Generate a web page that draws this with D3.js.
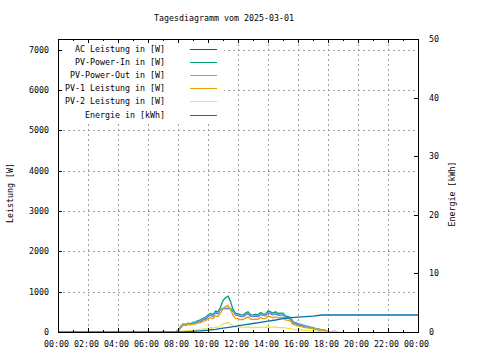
<!DOCTYPE html>
<html><head><meta charset="utf-8">
<script src="https://cdn.jsdelivr.net/npm/d3@7"></script>
<style>
html,body{margin:0;padding:0;background:#fff;}
svg{display:block;}
text{font-family:"DejaVu Sans Mono","Liberation Mono",monospace;font-size:8.3px;fill:#000;}
</style></head>
<body>
<svg id="c" width="480" height="360"></svg>
<script>
// ---- data ----
const title = "Tagesdiagramm vom 2025-03-01";
const times = ["07:50","08:00","08:10","08:20","08:30","08:40","08:50","09:00","09:10","09:20","09:30","09:40","09:50",
"10:00","10:10","10:20","10:30","10:40","10:50","11:00","11:10","11:20","11:30","11:40","11:50",
"12:00","12:10","12:20","12:30","12:40","12:50","13:00","13:10","13:20","13:30","13:40","13:50",
"14:00","14:10","14:20","14:30","14:40","14:50","15:00","15:10","15:20","15:30","15:40","15:50",
"16:00","16:10","16:20","16:30","16:40","16:50","17:00","17:10","17:20","17:30","17:40","17:50",
"18:00","18:10","18:20","18:30","18:40"];
const acLeistung = [10,20,105,175,165,195,185,210,220,250,270,305,325,380,420,390,475,455,565,580,580,580,580,510,425,410,390,380,425,455,390,380,400,380,435,410,400,475,455,425,455,420,425,425,360,340,325,230,205,185,165,150,130,120,100,90,75,60,50,45,25,5,0,15,15,0];
const pvPowerIn = [0,40,130,200,190,220,210,240,250,280,300,340,360,420,460,430,520,500,620,780,850,890,760,560,470,450,430,420,470,500,430,420,440,420,480,450,440,520,500,470,500,460,470,470,400,380,360,260,230,210,190,170,150,140,120,110,90,75,65,60,40,10,0,0,0,0];
const pvPowerOut = [0,30,115,185,175,205,195,220,230,260,280,315,335,390,430,400,485,465,575,590,590,590,590,520,435,420,400,390,435,465,400,390,410,390,445,420,410,485,465,435,465,430,435,435,370,350,335,240,215,195,175,160,140,130,110,100,85,70,60,55,35,8,0,0,0,0];
const pv1Leistung = [0,35,115,180,165,190,175,195,200,220,235,265,280,325,355,330,400,385,470,580,630,660,560,410,340,330,310,310,350,370,320,310,320,310,360,330,330,390,380,350,380,350,360,360,300,290,270,190,170,150,140,120,110,100,90,80,70,60,50,50,35,10,0,0,0,0];
const pv2Leistung = [0,5,15,20,25,30,35,45,50,60,65,75,80,95,105,100,120,115,150,200,220,230,200,150,130,120,120,110,120,130,110,110,120,110,120,120,110,130,120,120,120,110,110,110,100,90,90,70,60,60,50,50,40,40,30,30,20,15,15,10,5,0,0,0,0,0];
const energyTimes = ["00:00","08:20","09:00","09:30","10:00","10:30","11:00","11:30","12:00","12:30","13:00","13:30","14:00","14:30","15:00","15:30","16:00","16:30","17:00","17:35","24:00"];
const energyKWh = [0,0,0.1,0.2,0.3,0.45,0.65,0.85,1.05,1.25,1.45,1.65,1.85,2.05,2.3,2.45,2.55,2.62,2.7,2.9,2.9];
const xTickLabels = ["00:00","02:00","04:00","06:00","08:00","10:00","12:00","14:00","16:00","18:00","20:00","22:00","00:00"];
const yTicks = [0,1000,2000,3000,4000,5000,6000,7000];
const y2Ticks = [0,10,20,30,40,50];
const seriesNames = ["AC Leistung in [W]","PV-Power-In in [W]","PV-Power-Out in [W]","PV-1 Leistung in [W]","PV-2 Leistung in [W]","Energie in [kWh]"];
const seriesColors = ["#9400d3","#009e73","#56b4e9","#e69f00","#f0e442","#0072b2"];

// ---- layout ----
const L=58, R=418, T=39, B=332;
const hrs = s => { const [h,m]=s.split(":").map(Number); return h + m/60; };
const x = d3.scaleLinear().domain([0,24]).range([L,R]);
const y = d3.scaleLinear().domain([0,7270]).range([B,T]);
const y2 = d3.scaleLinear().domain([0,50]).range([B,T]);
const svg = d3.select("#c");

// grid
const g = svg.append("g").attr("shape-rendering","crispEdges");
d3.range(2,24,2).forEach(h=>{
  g.append("line").attr("x1",x(h)+0.5).attr("x2",x(h)+0.5).attr("y1",T).attr("y2",B)
   .attr("stroke","#a0a0a0").attr("stroke-dasharray","2,3");
});
yTicks.filter(v=>v>0).forEach(v=>{
  const yy=Math.round(y(v))+0.5;
  g.append("line").attr("x1",L).attr("x2",R).attr("y1",yy).attr("y2",yy)
   .attr("stroke","#a0a0a0").attr("stroke-dasharray","2,3");
});

// series
const tH = times.map(hrs);
const powerSeries = [acLeistung,pvPowerIn,pvPowerOut,pv1Leistung,pv2Leistung];
const line = d3.line().x(d=>x(d[0])).y(d=>y(d[1]));
powerSeries.forEach((s,i)=>{
  svg.append("path").datum(s.map((v,k)=>[tH[k],v]))
    .attr("d",line).attr("fill","none").attr("stroke",seriesColors[i]).attr("stroke-width",1.3);
});
const eLine = d3.line().x(d=>x(d[0])).y(d=>y2(d[1]));
svg.append("path").datum(energyKWh.map((v,k)=>[hrs(energyTimes[k]),v]))
  .attr("d",eLine).attr("fill","none").attr("stroke",seriesColors[5]).attr("stroke-width",1.3);

// legend (opaque box)
svg.append("rect").attr("x",L+1).attr("y",T+1).attr("width",165).attr("height",81).attr("fill","#fff");
seriesNames.forEach((n,i)=>{
  const yy = 49 + i*13.1;
  svg.append("text").attr("x",165).attr("y",yy+3).attr("text-anchor","end").text(n);
  svg.append("line").attr("x1",190).attr("x2",217).attr("y1",Math.round(yy)+0.5).attr("y2",Math.round(yy)+0.5)
    .attr("stroke",seriesColors[i]).attr("stroke-width",1.2).attr("shape-rendering","crispEdges");
});

// border
const b = svg.append("g").attr("shape-rendering","crispEdges").attr("stroke","#000");
b.append("rect").attr("x",L+0.5).attr("y",T+0.5).attr("width",R-L).attr("height",B-T).attr("fill","none");
d3.range(0,25,1).forEach(h=>{
  const len = h%2===0 ? 4 : 2;
  const xx = Math.round(x(h))+0.5;
  b.append("line").attr("x1",xx).attr("x2",xx).attr("y1",B).attr("y2",B-len);
  b.append("line").attr("x1",xx).attr("x2",xx).attr("y1",T).attr("y2",T+len);
});
yTicks.forEach(v=>{
  const yy=Math.round(y(v))+0.5;
  b.append("line").attr("x1",L).attr("x2",L+4).attr("y1",yy).attr("y2",yy);
});
y2Ticks.forEach(v=>{
  const yy=Math.round(y2(v))+0.5;
  b.append("line").attr("x1",R).attr("x2",R-4).attr("y1",yy).attr("y2",yy);
});

// labels
svg.append("text").attr("x",224).attr("y",21).attr("text-anchor","middle").text(title);
xTickLabels.forEach((t,i)=>{
  svg.append("text").attr("x",x(i*2)-1.5).attr("y",347).attr("text-anchor","middle").text(t);
});
yTicks.forEach(v=>{
  svg.append("text").attr("x",49).attr("y",y(v)+3).attr("text-anchor","end").text(v);
});
y2Ticks.forEach(v=>{
  svg.append("text").attr("x",429).attr("y",y2(v)+3).attr("text-anchor","start").text(v);
});
svg.append("text").attr("transform","translate(12.5,193) rotate(-90)").attr("text-anchor","middle").text("Leistung [W]");
svg.append("text").attr("transform","translate(455,194) rotate(-90)").attr("text-anchor","middle").text("Energie [kWh]");
</script>
</body></html>
